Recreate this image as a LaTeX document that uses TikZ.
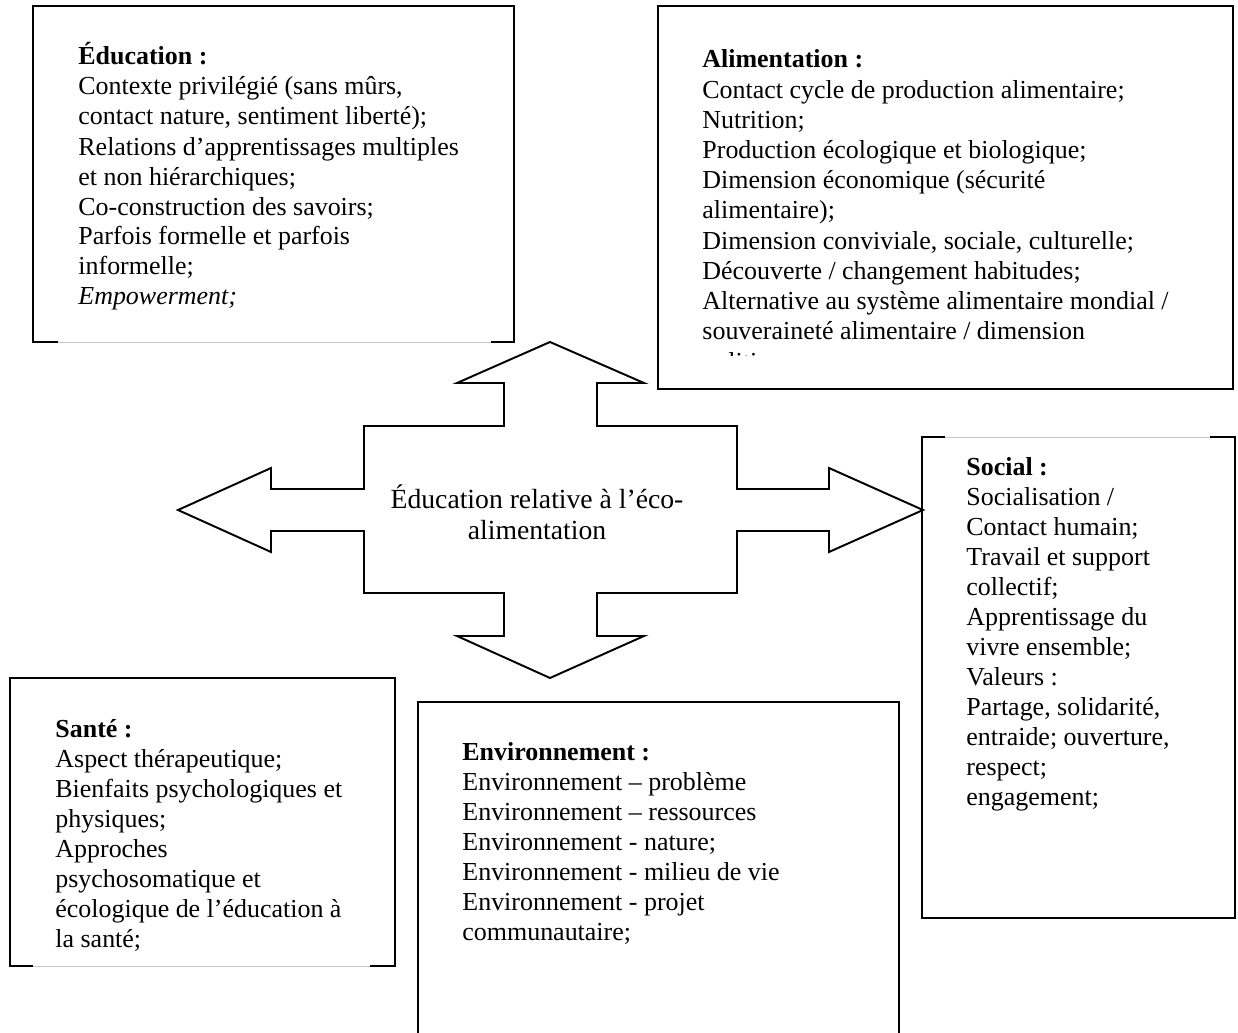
\documentclass[tikz,border=0pt]{standalone}
\usepackage{fontspec}
\setmainfont{Liberation Serif}

\tikzset{
	boxline/.style={line width=0.9pt},
	faintline/.style={draw=black!22, line width=0.45pt},
	txt/.style={anchor=base west, inner sep=0pt, font=\fontsize{12}{13.9}\selectfont},
}

\begin{document}
\begin{tikzpicture}[x=0.4625pt, y=-0.4625pt]
	% page
	\fill[white] (0,0) rectangle (1238,1033);
	\useasboundingbox (0,0) rectangle (1238,1033);
	% boxes
	\draw[boxline] (58,342) -- (33,342) -- (33,6) -- (514,6) -- (514,342) -- (491,342);
	\draw[faintline] (58,342) -- (491,342);
	\draw[boxline] (658,6) rectangle (1233,389);
	\draw[boxline] (945,437) -- (922,437) -- (922,918) -- (1235,918) -- (1235,437) -- (1210,437);
	\draw[faintline] (945,437) -- (1210,437);
	\draw[boxline] (33,966) -- (10,966) -- (10,678) -- (395,678) -- (395,966) -- (370,966);
	\draw[faintline] (33,966) -- (370,966);
	\draw[boxline] (418,1040) -- (418,702) -- (899,702) -- (899,1040);
	% cross arrow
	\draw[boxline] (550,342) -- (644,383) -- (597,383) -- (597,426) -- (737,426) -- (737,489)
		-- (829,489) -- (829,468) -- (923,510) -- (829,552) -- (829,531) -- (737,531)
		-- (737,593) -- (597,593) -- (597,636) -- (644,636) -- (550,678) -- (457,636)
		-- (504,636) -- (504,593) -- (364,593) -- (364,531) -- (271,531) -- (271,552)
		-- (178,510) -- (271,468) -- (271,489) -- (364,489) -- (364,426) -- (504,426)
		-- (504,383) -- (457,383) -- cycle;
	\node[align=center, inner sep=0pt, font=\fontsize{12.8}{14.4}\selectfont] (core) at (537,512)
		{Éducation relative à l’éco-\\alimentation};
	% Éducation
	\foreach \i/\lab in {0/\textbf{Éducation :}, 1/{Contexte privilégié (sans mûrs,},
		2/{contact nature, sentiment liberté);}, 3/Relations d’apprentissages multiples,
		4/et non hiérarchiques;, 5/Co-construction des savoirs;, 6/Parfois formelle et parfois,
		7/informelle;, 8/\textit{Empowerment;}}
		\node[txt] (edu-\i) at (78,65+30*\i) {\lab};
	% Alimentation
	\foreach \i/\lab in {0/\textbf{Alimentation :}, 1/Contact cycle de production alimentaire;,
		2/Nutrition;, 3/Production écologique et biologique;, 4/Dimension économique (sécurité,
		5/alimentaire);, 6/{Dimension conviviale, sociale, culturelle;},
		7/{Découverte / changement habitudes;}, 8/{Alternative au système alimentaire mondial /},
		9/{souveraineté alimentaire / dimension}}
		\node[txt] (ali-\i) at (702,68+30.2*\i) {\lab};
	\begin{scope}
		\clip (658,340) rectangle (1233,355);
		\node[txt] (ali-10) at (702,370) {politique};
	\end{scope}
	% Social
	\foreach \i/\lab in {0/\textbf{Social :}, 1/{Socialisation /}, 2/Contact humain;,
		3/Travail et support, 4/collectif;, 5/Apprentissage du, 6/vivre ensemble;,
		7/Valeurs :, 8/{Partage, solidarité,}, 9/{entraide; ouverture,}, 10/respect;,
		11/engagement;}
		\node[txt] (soc-\i) at (966,475+30*\i) {\lab};
	% Santé
	\foreach \i/\lab in {0/\textbf{Santé :}, 1/Aspect thérapeutique;,
		2/Bienfaits psychologiques et, 3/physiques;, 4/Approches, 5/psychosomatique et,
		6/écologique de l’éducation à, 7/la santé;}
		\node[txt] (san-\i) at (55,737+30*\i) {\lab};
	% Environnement
	\foreach \i/\lab in {0/\textbf{Environnement :}, 1/Environnement – problème,
		2/Environnement – ressources, 3/Environnement - nature;,
		4/Environnement - milieu de vie, 5/Environnement - projet, 6/communautaire;}
		\node[txt] (env-\i) at (462,760+30*\i) {\lab};
\end{tikzpicture}
\end{document}
